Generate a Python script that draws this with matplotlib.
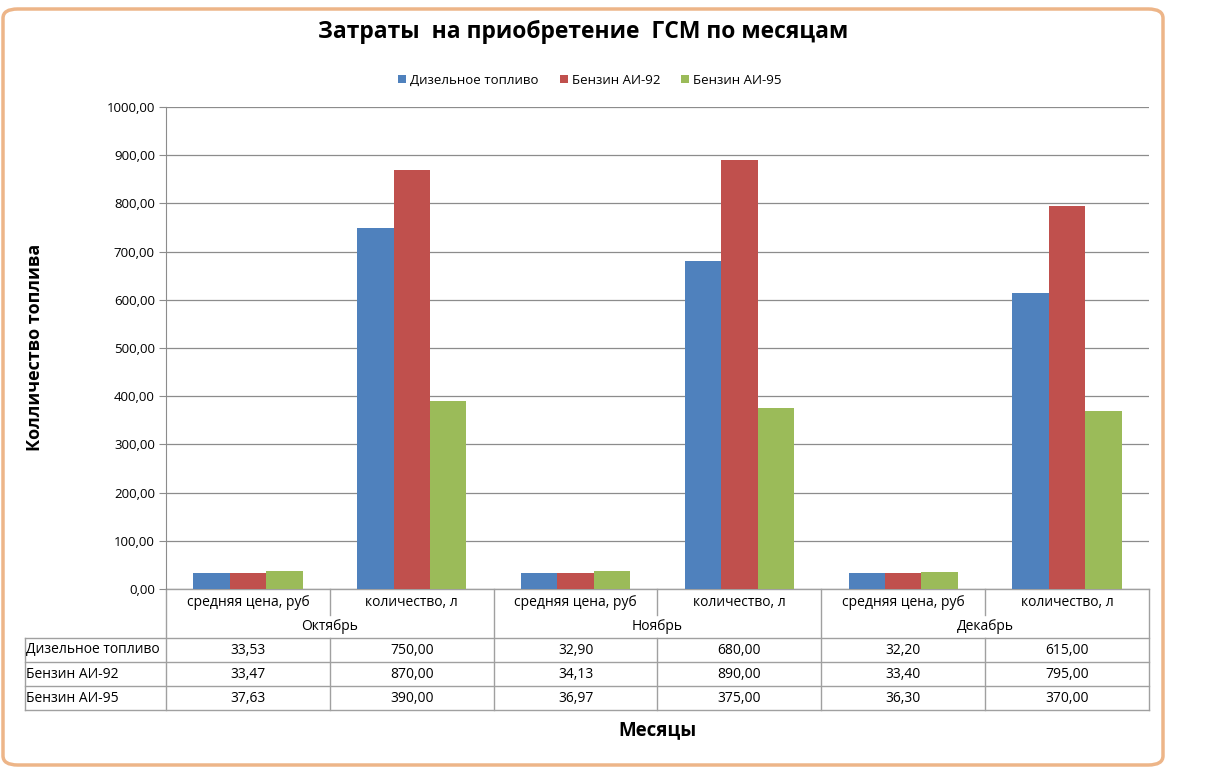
import numpy as np
import matplotlib.pyplot as plt
from matplotlib.patches import FancyBboxPatch
from matplotlib.transforms import blended_transform_factory

plt.rcParams['font.family'] = ['Open Sans', 'DejaVu Sans']

# ----------------------------
# data
# ----------------------------
months = ['Октябрь', 'Ноябрь', 'Декабрь']
subcats = ['средняя цена, руб', 'количество, л']
series_names = ['Дизельное топливо', 'Бензин АИ-92', 'Бензин АИ-95']
diesel = [33.53, 750.00, 32.90, 680.00, 32.20, 615.00]
ai92 = [33.47, 870.00, 34.13, 890.00, 33.40, 795.00]
ai95 = [37.63, 390.00, 36.97, 375.00, 36.30, 370.00]
yticks = [0, 100, 200, 300, 400, 500, 600, 700, 800, 900, 1000]

colors = ['#4F81BD', '#C0504D', '#9BBB59']
series = [diesel, ai92, ai95]

W, H = 1224, 768
fig = plt.figure(figsize=(W / 100, H / 100), dpi=100)

# orange rounded frame
frame = FancyBboxPatch((3 / W, 3 / H), 1160 / W, 756 / H,
                       boxstyle='round,pad=0,rounding_size=0.012',
                       transform=fig.transFigure, facecolor='white',
                       edgecolor='#EDB588', linewidth=2.5, zorder=-10)
fig.patches.append(frame)

x0, x1, ytop, ybot = 166, 1149, 107, 589
ax = fig.add_axes([x0 / W, 1 - ybot / H, (x1 - x0) / W, (ybot - ytop) / H])
ax.set_facecolor('none')

ncat = len(diesel)
x = np.arange(ncat)
bw = 1 / 4.5
for i, (vals, name, c) in enumerate(zip(series, series_names, colors)):
    ax.bar(x + (i - 1) * bw, vals, width=bw, color=c, label=name, zorder=3)

ax.set_xlim(-0.5, ncat - 0.5)
ax.set_ylim(0, 1000)
ax.set_yticks(yticks)
ax.set_yticklabels([f'{v:.2f}'.replace('.', ',') for v in yticks], fontsize=9.5)
ax.set_xticks([])
ax.yaxis.grid(True, color='#8C8C8C', linewidth=0.9, zorder=0)
for s in ['top', 'right', 'bottom']:
    ax.spines[s].set_visible(False)
ax.spines['left'].set_color('#8C8C8C')
ax.tick_params(axis='y', length=5, color='#8C8C8C', pad=3)

# ----------------------------
# data table under the axes
# ----------------------------
trans = blended_transform_factory(ax.transData, fig.transFigure)
ppx = (ncat) / (x1 - x0)  # data units per pixel


def fy(p):
    return 1 - p / H


line_kw = dict(color='#A0A0A0', linewidth=1, transform=trans, clip_on=False)
lab_left = -0.5 - (x0 - 25) * ppx
right = ncat - 0.5

# horizontal lines
ax.plot([-0.5, right], [fy(ybot), fy(ybot)], **line_kw)
for yp in [638, 662, 686, 710]:
    ax.plot([lab_left, right], [fy(yp), fy(yp)], **line_kw)
# vertical lines
ax.plot([lab_left, lab_left], [fy(638), fy(710)], **line_kw)
for k in range(ncat + 1):
    xb = k - 0.5
    if k % 2 == 0:
        ax.plot([xb, xb], [fy(ybot), fy(710)], **line_kw)
    else:
        ax.plot([xb, xb], [fy(ybot), fy(615)], **line_kw)
        ax.plot([xb, xb], [fy(638), fy(710)], **line_kw)

# header texts
for k in range(ncat):
    ax.text(k, fy(603), subcats[k % 2], transform=trans, ha='center',
            va='center', fontsize=10)
for m, name in enumerate(months):
    ax.text(2 * m + 0.5, fy(627), name, transform=trans, ha='center',
            va='center', fontsize=10)
# data rows
for r, (vals, name) in enumerate(zip(series, series_names)):
    yc = fy(650 + 24 * r)
    ax.text(lab_left + 1.5 * ppx, yc, name, transform=trans, ha='left',
            va='center', fontsize=10)
    for k, v in enumerate(vals):
        ax.text(k, yc, f'{v:.2f}'.replace('.', ','), transform=trans,
                ha='center', va='center', fontsize=10)

# titles and legend
fig.text(583 / W, fy(32), 'Затраты  на приобретение  ГСМ по месяцам',
         ha='center', va='center', fontsize=16.5, fontweight='bold')
fig.text(35 / W, fy(347), 'Колличество топлива', rotation=90,
         ha='center', va='center', fontsize=13, fontweight='bold')
fig.text(657 / W, fy(730), 'Месяцы', ha='center', va='center',
         fontsize=13.5, fontweight='bold')
fig.legend(loc='center', bbox_to_anchor=(590 / W, fy(80)), ncol=3,
           frameon=False, fontsize=9.5, handlelength=0.6, handleheight=0.6,
           handletextpad=0.3, columnspacing=1.6)

plt.savefig('out.png', dpi=100)
